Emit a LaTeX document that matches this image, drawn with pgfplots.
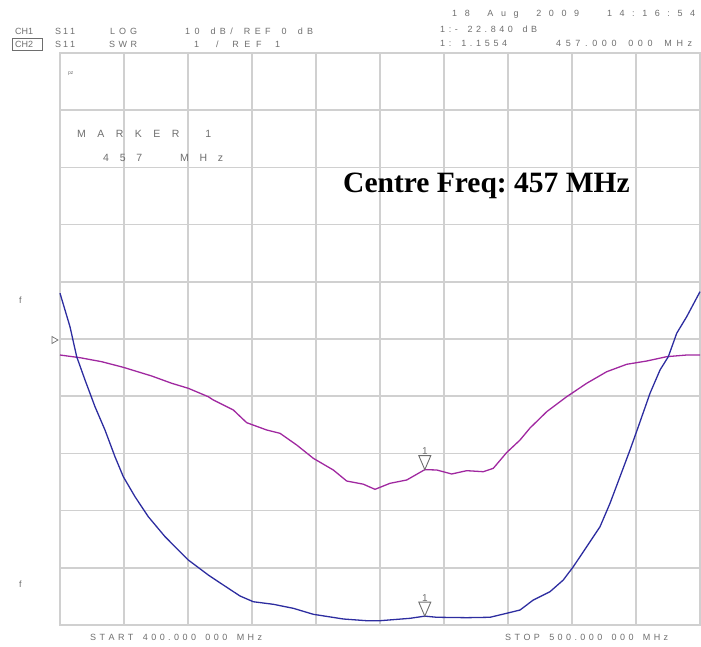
\documentclass[border=0pt]{standalone}
\usepackage{pgfplots}
\pgfplotsset{compat=1.18}
\usepackage{fontspec}
\setmainfont{Liberation Serif}
\newfontfamily\lcd{Liberation Sans}
\definecolor{gridc}{RGB}{208,208,208}
\definecolor{txt}{RGB}{110,110,110}
\definecolor{tblue}{RGB}{45,45,160}
\definecolor{tpurp}{RGB}{160,40,160}
\makeatletter
\def\spr#1#2{\hbox to #1{\spr@a#2\relax}}
\def\spr@a#1{#1\spr@}
\def\spr@#1{\ifx#1\relax\else\hfil#1\expandafter\spr@\fi}
\makeatother
\pgfdeclareplotmark{mk}{%
  \pgfsetlinewidth{0.9pt}%
  \pgfpathmoveto{\pgfpoint{0pt}{0pt}}%
  \pgfpathlineto{\pgfpoint{-6pt}{14pt}}%
  \pgfpathlineto{\pgfpoint{6pt}{14pt}}%
  \pgfpathclose\pgfusepathqstroke
  \pgftext[bottom,at={\pgfpoint{0pt}{15pt}}]{\fontsize{10}{10}\lcd\color{txt}1}}
\newcommand\T[3]{\node[anchor=base west,inner sep=0pt,text=txt,font=\fontsize{9}{10}\lcd] at (#1pt,{(646-#2)*1pt}) {#3};}
\begin{document}
\begin{tikzpicture}
\path[use as bounding box] (0,0) rectangle (701pt,646pt);
\begin{axis}[at={(60pt,21pt)}, anchor=south west, scale only axis,
  width=640pt, height=572pt,
  xmin=400, xmax=500, ymin=0, ymax=10,
  xtick={400,410,...,500}, ytick={0,1,...,10},
  xticklabels={}, yticklabels={},
  major tick length=0pt,
  grid=major, grid style={gridc, line width=1.6pt},
  axis line style={gridc, line width=1.6pt},
  clip=false]
% CH1 S11 LOG (divisions, ref 0 dB at centre line, 10 dB/div)
\addplot[tpurp, line width=1.3pt, mark=none] coordinates {
(400.00,4.720) (403.13,4.673) (406.52,4.603) (409.89,4.505) (414.33,4.353)
(417.45,4.226) (420.05,4.138) (423.17,3.991) (423.95,3.934) (427.08,3.759)
(429.17,3.537) (432.30,3.409) (434.38,3.351) (436.98,3.147) (439.58,2.914)
(442.70,2.710) (444.80,2.517) (447.39,2.462) (449.22,2.372) (451.56,2.477)
(454.17,2.535) (457.00,2.716) (458.86,2.710) (461.20,2.640) (463.55,2.698)
(466.14,2.680) (467.70,2.739) (469.80,3.016) (471.88,3.234) (473.44,3.444)
(476.05,3.729) (479.17,3.991) (482.30,4.226) (485.42,4.428) (488.55,4.558)
(491.67,4.615) (494.80,4.691) (497.92,4.720) (500.00,4.720)};
% CH2 S11 SWR (divisions, ref 1 at bottom, 1/div)
\addplot[tblue, line width=1.3pt, mark=none] coordinates {
(400.00,5.800) (401.56,5.215) (402.61,4.690) (403.91,4.283) (405.47,3.816)
(407.03,3.409) (408.59,2.942) (409.89,2.593) (411.72,2.243) (413.80,1.893)
(416.41,1.544) (420.05,1.136) (423.17,0.874) (425.52,0.699) (428.13,0.507)
(430.20,0.407) (433.33,0.362) (436.45,0.292) (439.58,0.187) (444.27,0.105)
(447.92,0.075) (450.00,0.075) (454.69,0.117) (457.00,0.155) (458.86,0.135)
(463.55,0.128) (467.19,0.135) (469.80,0.205) (471.88,0.262) (473.95,0.437)
(476.56,0.582) (478.64,0.787) (480.20,1.019) (482.30,1.369) (484.38,1.719)
(485.94,2.128) (487.50,2.593) (489.06,3.059) (490.36,3.467) (492.19,4.051)
(493.75,4.458) (495.05,4.691) (496.36,5.100) (497.92,5.390) (500.00,5.827)};
% markers
\addplot[only marks, mark=mk, mark options={draw=txt}] coordinates {(457,2.716) (457,0.155)};
\end{axis}
% header
\T{15}{35}{\spr{18pt}{CH1}}
\T{55}{35}{\spr{20pt}{S11}}
\T{110}{35}{\spr{27pt}{LOG}}
\T{185}{35}{\spr{128pt}{10~dB/~REF~0~dB}}
\draw[txt, line width=0.8pt] (12pt,{(646-50)*1pt}) rectangle (42pt,{(646-38)*1pt});
\T{15}{48}{\spr{18pt}{CH2}}
\T{55}{48}{\spr{20pt}{S11}}
\T{109}{48}{\spr{28pt}{SWR}}
\T{194}{48}{1}
\T{216}{48}{\spr{64pt}{/~REF~1}}
\T{452}{17}{\spr{243pt}{18~Aug~2009~~14:16:54}}
\T{440}{33}{\spr{97pt}{1:-~22.840~dB}}
\T{440}{47}{\spr{67pt}{1:~1.1554}}
\T{556}{47}{\spr{136pt}{457.000~000~MHz}}
% marker box text
\node[anchor=base west,inner sep=0pt,text=txt,font=\fontsize{5}{5}\lcd] at (68pt,{(646-75)*1pt}) {pz};
\node[anchor=base west,inner sep=0pt,text=txt,font=\fontsize{10.5}{11}\lcd] at (77pt,{(646-138)*1pt}) {\spr{134pt}{MARKER~1}};
\node[anchor=base west,inner sep=0pt,text=txt,font=\fontsize{10.5}{11}\lcd] at (103pt,{(646-162)*1pt}) {\spr{120pt}{457~~MHz}};
% left reference markers
\T{19}{304}{f}
\T{19}{587}{f}
\draw[txt, line width=0.7pt] (52pt,{(646-336.5)*1pt}) -- (58pt,{(646-340)*1pt}) -- (52pt,{(646-343.5)*1pt}) -- cycle;
% footer
\T{90}{640}{\spr{172pt}{START~400.000~000~MHz}}
\T{505}{640}{\spr{163pt}{STOP~500.000~000~MHz}}
% annotation
\node[anchor=base west, inner sep=0pt, font=\fontsize{29.5}{30}\selectfont\bfseries\frenchspacing] at (343pt,{(646-193)*1pt}) {Centre Freq: 457 MHz};
\end{tikzpicture}
\end{document}
